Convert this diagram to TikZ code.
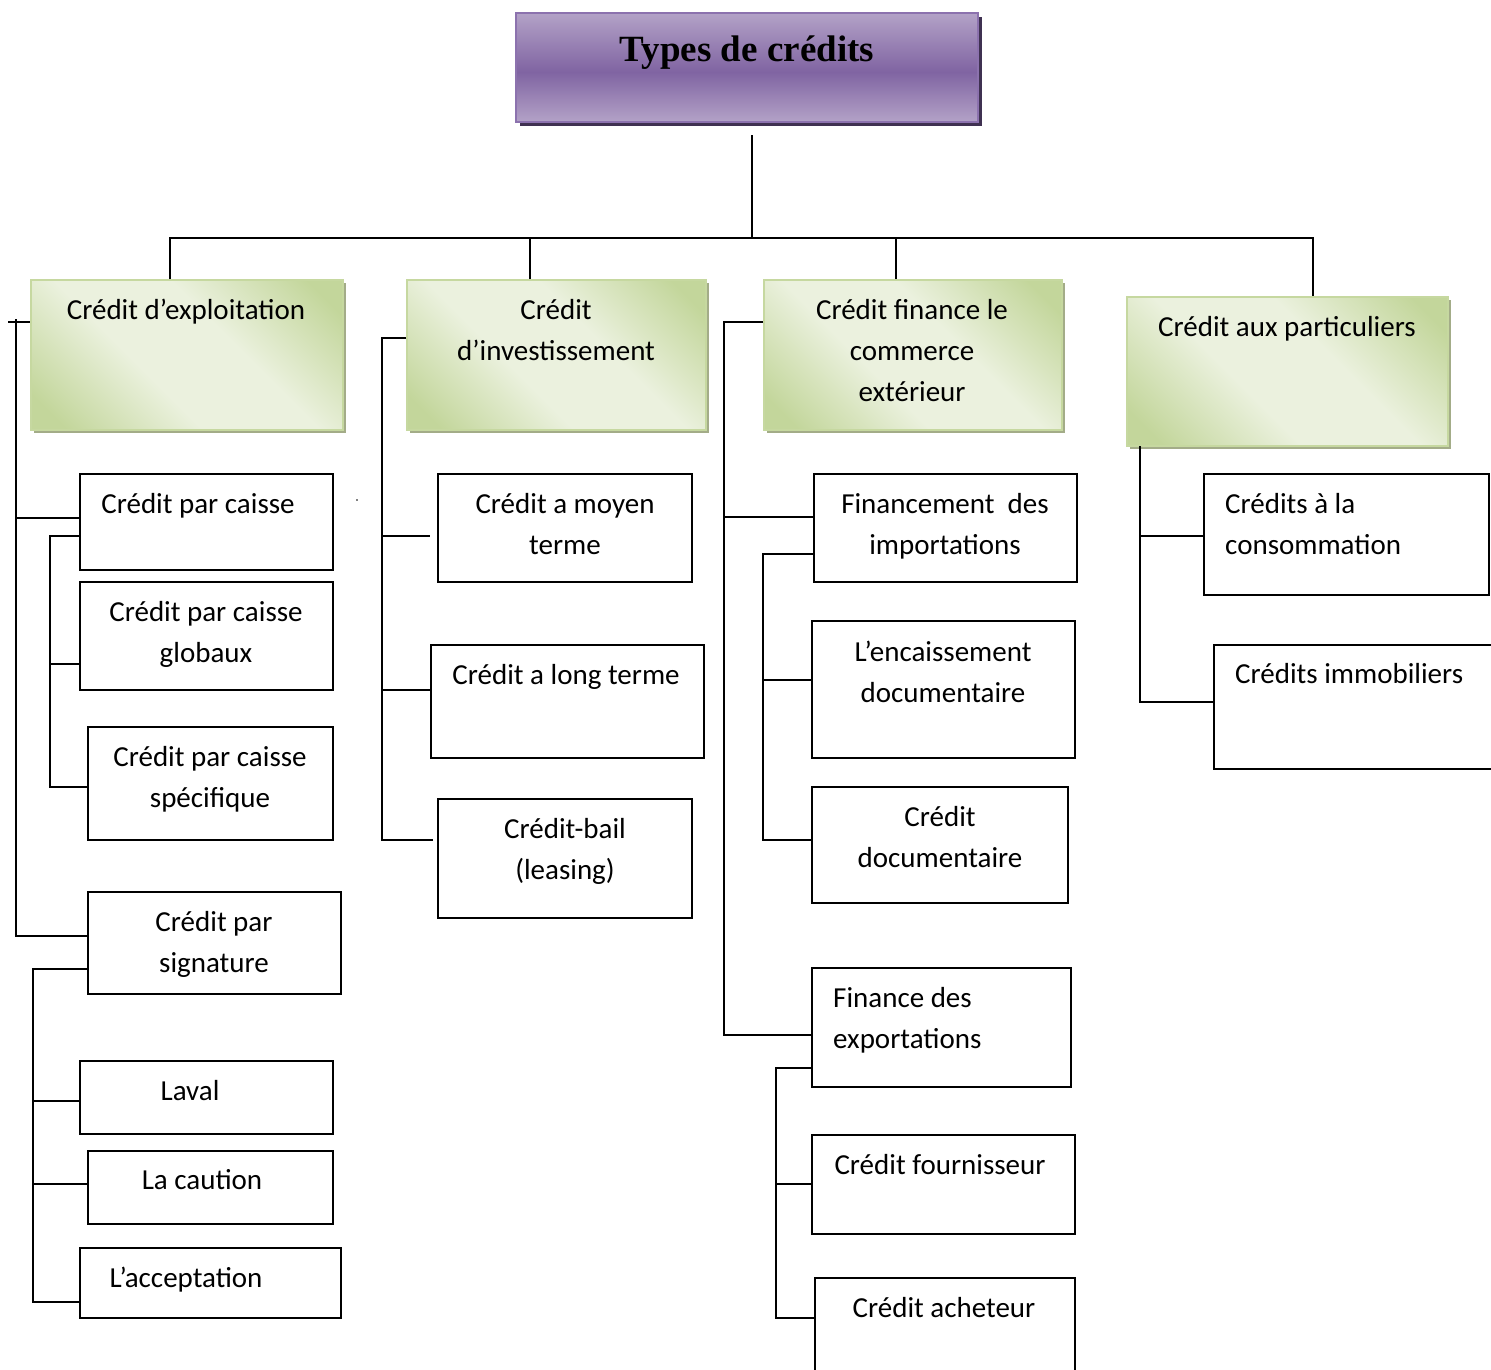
\documentclass[tikz,border=0pt]{standalone}
\usepackage{fontspec}
\setmainfont{Carlito}
\newfontfamily\titlefont{Liberation Serif}
\usetikzlibrary{shadows,calc}
\definecolor{gdark}{HTML}{C3D69B}
\definecolor{glight}{HTML}{EBF1DE}
\definecolor{gborder}{HTML}{C6D8A0}
\definecolor{gshadow}{HTML}{A3AC88}
\definecolor{plight}{HTML}{B3A2C7}
\definecolor{pdark}{HTML}{8064A2}
\definecolor{pborder}{HTML}{8C72AE}
\definecolor{pshadow}{HTML}{3F3151}
\pgfdeclareverticalshading{gshade}{100bp}{color(0bp)=(gdark); color(20bp)=(gdark); color(41bp)=(glight); color(59bp)=(glight); color(80bp)=(gdark); color(100bp)=(gdark)}
\pgfdeclareverticalshading{pshade}{100bp}{color(0bp)=(plight); color(25bp)=(plight); color(48bp)=(pdark); color(75bp)=(plight); color(100bp)=(plight)}
\newcommand\firstln{\rule{0pt}{23pt}}
\begin{document}
\begin{tikzpicture}[x=1pt,y=-1pt,
  conn/.style={line width=1.8pt},
  wbox/.style={rectangle, draw, line width=2.6pt, fill=white, inner sep=0pt},
  gbox/.style={rectangle, inner sep=0pt, draw=gborder, line width=2pt,
    shading=gshade, shading angle=-45,
    drop shadow={shadow xshift=3pt, shadow yshift=-3pt, fill=gshadow, opacity=1}},
  pbox/.style={rectangle, inner sep=0pt, draw=pborder, line width=2.5pt,
    shading=pshade,
    drop shadow={shadow xshift=4pt, shadow yshift=-4pt, fill=pshadow, opacity=1}},
  txt/.style={inner sep=0pt, anchor=north, align=center, font=\fontsize{29}{41}\selectfont},
  ltxt/.style={txt, anchor=north west, align=left}]
\path[use as bounding box] (0,0) rectangle (1491,1369);
\clip (0,0) rectangle (1491,1369);
\fill[white] (0,0) rectangle (1491,1369);

% ---------- boxes ----------
\node[pbox, minimum width=462pt, minimum height=109pt] (title) at (747,67.5) {};
\node[gbox, minimum width=312pt, minimum height=150pt] (g1) at (187,355) {};
\node[gbox, minimum width=299pt, minimum height=150pt] (g2) at (556.5,355) {};
\node[gbox, minimum width=298pt, minimum height=150pt] (g3) at (913,355) {};
\node[gbox, minimum width=321pt, minimum height=149pt] (g4) at (1287.5,371.5) {};

\node[wbox, minimum width=253pt, minimum height=96pt]  (b11) at (206.5,522) {};
\node[wbox, minimum width=253pt, minimum height=108pt] (b12) at (206.5,636) {};
\node[wbox, minimum width=245pt, minimum height=113pt] (b13) at (210.5,783.5) {};
\node[wbox, minimum width=253pt, minimum height=102pt] (b14) at (214.5,943) {};
\node[wbox, minimum width=253pt, minimum height=73pt]  (b15) at (206.5,1097.5) {};
\node[wbox, minimum width=245pt, minimum height=73pt]  (b16) at (210.5,1187.5) {};
\node[wbox, minimum width=261pt, minimum height=70pt]  (b17) at (210.5,1283) {};

\node[wbox, minimum width=254pt, minimum height=108pt] (b21) at (565,528) {};
\node[wbox, minimum width=273pt, minimum height=113pt] (b22) at (567.5,701.5) {};
\node[wbox, minimum width=254pt, minimum height=119pt] (b23) at (565,858.5) {};

\node[wbox, minimum width=263pt, minimum height=108pt] (b31) at (945.5,528) {};
\node[wbox, minimum width=263pt, minimum height=137pt] (b32) at (943.5,689.5) {};
\node[wbox, minimum width=256pt, minimum height=116pt] (b33) at (940,845) {};
\node[wbox, minimum width=259pt, minimum height=119pt] (b34) at (941.5,1027.5) {};
\node[wbox, minimum width=263pt, minimum height=99pt]  (b35) at (943.5,1184.5) {};
\node[wbox, minimum width=260pt, minimum height=122pt] (b36) at (945,1339) {};

\node[wbox, minimum width=285pt, minimum height=121pt] (b41) at (1346.5,534.5) {};
\node[wbox, minimum width=326pt, minimum height=124pt] (b42) at (1377,707) {};

% ---------- connectors ----------
\coordinate (tTop) at (752,135);
\coordinate (tJ) at (752,238);
\draw[conn] (tTop) -- (tJ);
\draw[conn] ([xshift=-17pt]g1.north) |- (tJ) -| ([xshift=25.5pt]g4.north);
\draw[conn] ([xshift=-26.5pt]g2.north) -- ([xshift=-26.5pt]g2.north |- tJ);
\draw[conn] ([xshift=-17pt]g3.north) -- ([xshift=-17pt]g3.north |- tJ);

% left column
\coordinate (Lt) at (8,322);
\coordinate (Ls) at (16,319);
\draw[conn] (Lt) -- (Lt -| g1.west);
\draw[conn] (Ls) |- ([yshift=7pt]b14.west);
\draw[conn] (Ls) |- ([yshift=4pt]b11.west);
\coordinate (La) at (50,536);
\draw[conn] ([yshift=-14pt]b11.west) -- (La) |- ([yshift=-3.5pt]b13.west);
\draw[conn] (La) |- ([yshift=-28pt]b12.west);
\coordinate (Lb) at (33,969);
\draw[conn] ([yshift=-26pt]b14.west) -- (Lb) |- ([yshift=-19pt]b17.west);
\draw[conn] (Lb) |- ([yshift=-3.5pt]b15.west);
\draw[conn] (Lb) |- ([yshift=3.5pt]b16.west);

% investissement
\coordinate (Ia) at (382,338);
\draw[conn] ([yshift=17pt]g2.west) -- (Ia) |- ([xshift=-4pt,yshift=18.5pt]b23.west);
\draw[conn] (Ia) |- ([xshift=-7pt,yshift=-8pt]b21.west);
\draw[conn] (Ia) |- ([yshift=11.5pt]b22.west);

% commerce exterieur
\coordinate (Ca) at (724,322);
\draw[conn] ([yshift=33pt]g3.west) -- (Ca) |- ([yshift=11pt]b31.west);
\draw[conn] (Ca) |- ([yshift=-7.5pt]b34.west);
\coordinate (Cb) at (763,554);
\draw[conn] ([yshift=-26pt]b31.west) -- (Cb) |- ([yshift=9.5pt]b32.west);
\draw[conn] (Cb) |- ([yshift=5pt]b33.west);
\coordinate (Cc) at (776,1068);
\draw[conn] ([yshift=-40.5pt]b34.west) -- (Cc) |- ([yshift=0.5pt]b35.west);
\draw[conn] (Cc) |- ([yshift=21pt]b36.west);

% particuliers
\coordinate (Pa) at (1140,446);
\draw[conn] (Pa) |- ([yshift=-1.5pt]b41.west);
\draw[conn] (Pa) |- ([yshift=5pt]b42.west);

% stray dot
\fill (357,500) circle (0.9pt);

% ---------- texts ----------
\node[anchor=base, inner sep=0pt, font=\titlefont\bfseries\fontsize{37}{40}\selectfont] (tt) at (747,61) {Types de crédits};

\node[txt] (tg1) at (186,296) {\firstln Crédit d’exploitation};
\node[txt] (tg2) at (556,296) {\firstln Crédit\\d’investissement};
\node[txt] (tg3) at (912,296) {\firstln Crédit finance le\\commerce\\extérieur};
\node[txt] (tg4) at (1287,313) {\firstln Crédit aux particuliers};

\node[txt] (t11) at (198,490) {\firstln Crédit par caisse};
\node[txt] (t12) at (206,598) {\firstln Crédit par caisse\\globaux};
\node[txt] (t13) at (210,743) {\firstln Crédit par caisse\\spécifique};
\node[txt] (t14) at (214,908) {\firstln Crédit par\\signature};
\node[txt] (t15) at (190,1077) {\firstln Laval};
\node[txt] (t16) at (202,1166) {\firstln La caution};
\node[txt] (t17) at (186,1264) {\firstln L’acceptation};

\node[txt] (t21) at (565,490) {\firstln Crédit a moyen\\terme};
\node[txt] (t22) at (566,661) {\firstln Crédit a long terme};
\node[txt] (t23) at (565,815) {\firstln Crédit-bail\\(leasing)};

\node[txt] (t31) at (945,490) {\firstln Financement\ \ des\\importations};
\node[txt] (t32) at (943,638) {\firstln L’encaissement\\documentaire};
\node[txt] (t33) at (940,803) {\firstln Crédit\\documentaire};
\node[ltxt] (t34) at (833,984) {\firstln Finance des\\exportations};
\node[txt] (t35) at (940,1151) {\firstln Crédit fournisseur};
\node[txt] (t36) at (944,1294) {\firstln Crédit acheteur};

\node[ltxt] (t41) at (1225,490) {\firstln Crédits à la\\consommation};
\node[ltxt] (t42) at (1235,660) {\firstln Crédits immobiliers};
\end{tikzpicture}
\end{document}
